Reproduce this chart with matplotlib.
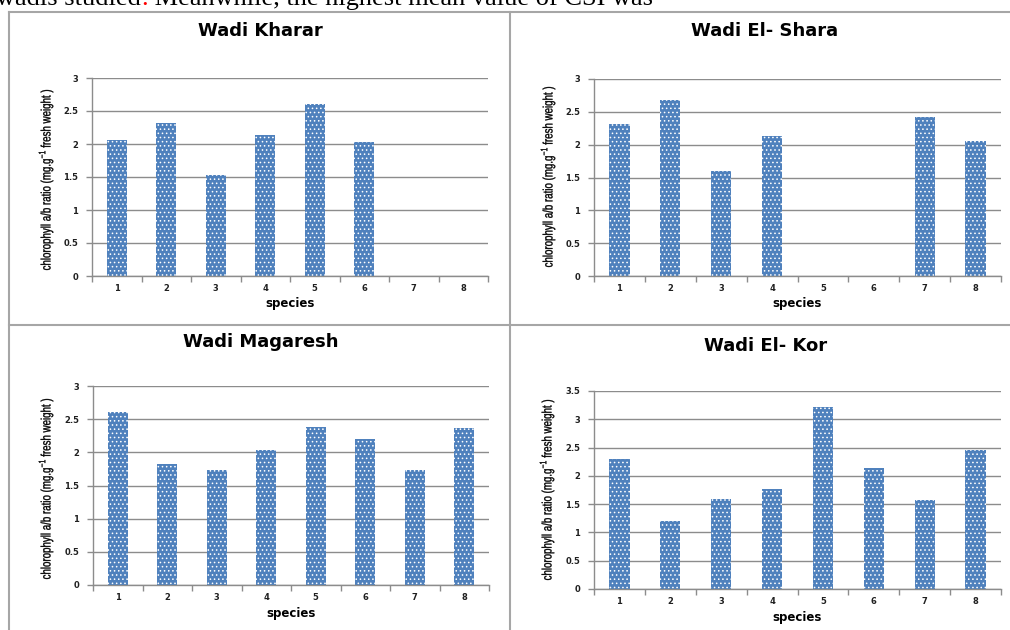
import numpy as np
import matplotlib
matplotlib.use("Agg")
import matplotlib.pyplot as plt
from matplotlib.lines import Line2D
from matplotlib.textpath import TextPath
from matplotlib.patches import PathPatch
from matplotlib.font_manager import FontProperties
from matplotlib.transforms import Affine2D

# chlorophyll a/b ratio per species at each wadi (0 = species not present)
species = [1, 2, 3, 4, 5, 6, 7, 8]
kharar = [2.06, 2.32, 1.53, 2.13, 2.60, 2.03, 0, 0]
shara = [2.31, 2.68, 1.60, 2.13, 0, 0, 2.42, 2.06]
magaresh = [2.61, 1.82, 1.74, 2.03, 2.38, 2.20, 1.74, 2.36]
kor = [2.29, 1.21, 1.59, 1.76, 3.22, 2.14, 1.57, 2.45]

titles = ["Wadi Kharar", "Wadi El- Shara", "Wadi Magaresh", "Wadi El- Kor"]
ymax = [3, 3, 3, 3.5]
y_ticks = [[0, 0.5, 1, 1.5, 2, 2.5, 3]] * 3 + [[0, 0.5, 1, 1.5, 2, 2.5, 3, 3.5]]
ylabel = r'chlorophyll a/b ratio (mg.g$^{-1}$ fresh weight )'

W, H = 1010, 630
plt.rcParams['hatch.color'] = 'white'
plt.rcParams['hatch.linewidth'] = 0.6
plt.rcParams['mathtext.fontset'] = 'custom'
plt.rcParams['mathtext.rm'] = 'Liberation Sans'

fig = plt.figure(figsize=(W / 100, H / 100), dpi=100)

def px_box(left, top, right, bottom):
    return [left / W, 1 - bottom / H, (right - left) / W, (bottom - top) / H]

# plot areas (pixels) and title / y-label centres
boxes = [px_box(92, 78, 488, 276), px_box(594, 79, 1001, 276),
         px_box(93, 386, 489, 585), px_box(594, 391, 1001, 589)]
title_pos = [(260, 31), (765, 31), (261, 342), (766, 346)]
ylab_pos = [(46, 180), (548, 177), (46, 489), (547, 490)]
data = [kharar, shara, magaresh, kor]

grid_col = '#8c8c8c'
bar_col = '#4f81bd'

# narrow vertical axis title: text outline squeezed along its length
lab_path = TextPath((0, 0), ylabel, size=13.5, prop=FontProperties(family='Liberation Sans'))
ext = lab_path.get_extents()
squeeze = 180 / ext.width

def add_ylabel(cx, cy):
    tr = (Affine2D().translate(-(ext.x0 + ext.x1) / 2, -(ext.y0 + ext.y1) / 2)
          .scale(squeeze, 1).rotate_deg(90).translate(cx, H - cy)
          .scale(1 / 100) + fig.dpi_scale_trans)
    fig.add_artist(PathPatch(lab_path, transform=tr, facecolor='black',
                             edgecolor='black', lw=0.25))

for i in range(4):
    ax = fig.add_axes(boxes[i])
    ax.bar(species, data[i], width=0.4, color=bar_col, edgecolor='white',
           linewidth=0, hatch='....', zorder=2)
    ax.set_xlim(0.5, 8.5)
    ax.set_ylim(0, ymax[i])
    ax.set_yticks(y_ticks[i])
    ax.set_yticklabels(['%g' % t for t in y_ticks[i]])
    ax.set_xticks(np.arange(0.5, 9, 1))
    ax.set_xticklabels([])
    ax.set_xticks(species, minor=True)
    ax.set_xticklabels([str(s) for s in species], minor=True)
    ax.tick_params(axis='x', which='minor', length=0, pad=6)
    ax.tick_params(axis='x', which='major', length=4, color=grid_col, width=1)
    ax.tick_params(axis='y', length=4, color=grid_col, width=1, pad=6)
    for lab in ax.get_xticklabels(minor=True) + ax.get_yticklabels():
        lab.set_fontsize(6)
        lab.set_fontweight('bold')
        lab.set_color('#202020')
    ax.yaxis.grid(True, color=grid_col, linewidth=1)
    ax.set_axisbelow(True)
    for s in ['top', 'right']:
        ax.spines[s].set_visible(False)
    for s in ['left', 'bottom']:
        ax.spines[s].set_color(grid_col)
        ax.spines[s].set_linewidth(1)
    ax.set_xlabel('species', fontsize=8.5, fontweight='bold', labelpad=3)
    add_ylabel(*ylab_pos[i])
    fig.text(title_pos[i][0] / W, 1 - title_pos[i][1] / H, titles[i],
             fontsize=13, fontweight='bold', ha='center', va='center')

# frame lines between the four charts
frame = '#a6a6a6'
for x in [9, 510]:
    fig.add_artist(Line2D([x / W, x / W], [1 - 12 / H, 0], color=frame, lw=1.5))
fig.add_artist(Line2D([9 / W, 1009 / W], [1 - 12 / H, 1 - 12 / H], color=frame, lw=1.5))
fig.add_artist(Line2D([9 / W, 1009 / W], [1 - 325 / H, 1 - 325 / H], color=frame, lw=1.5))

# running text line above the figure
serif = dict(fontsize=19, family='Liberation Serif', va='baseline')
t1 = fig.text(-4 / W, 1 - 5 / H, 'wadis studied', **serif)
fig.canvas.draw()
r = fig.canvas.get_renderer()
e = t1.get_window_extent(r)
t2 = fig.text(e.x1 / W, 1 - 5 / H, '.', color='red', **serif)
e2 = t2.get_window_extent(r)
fig.text(e2.x1 / W, 1 - 5 / H, ' Meanwhile, the highest mean value of CSI was', **serif)

fig.savefig('out.png', dpi=100)
